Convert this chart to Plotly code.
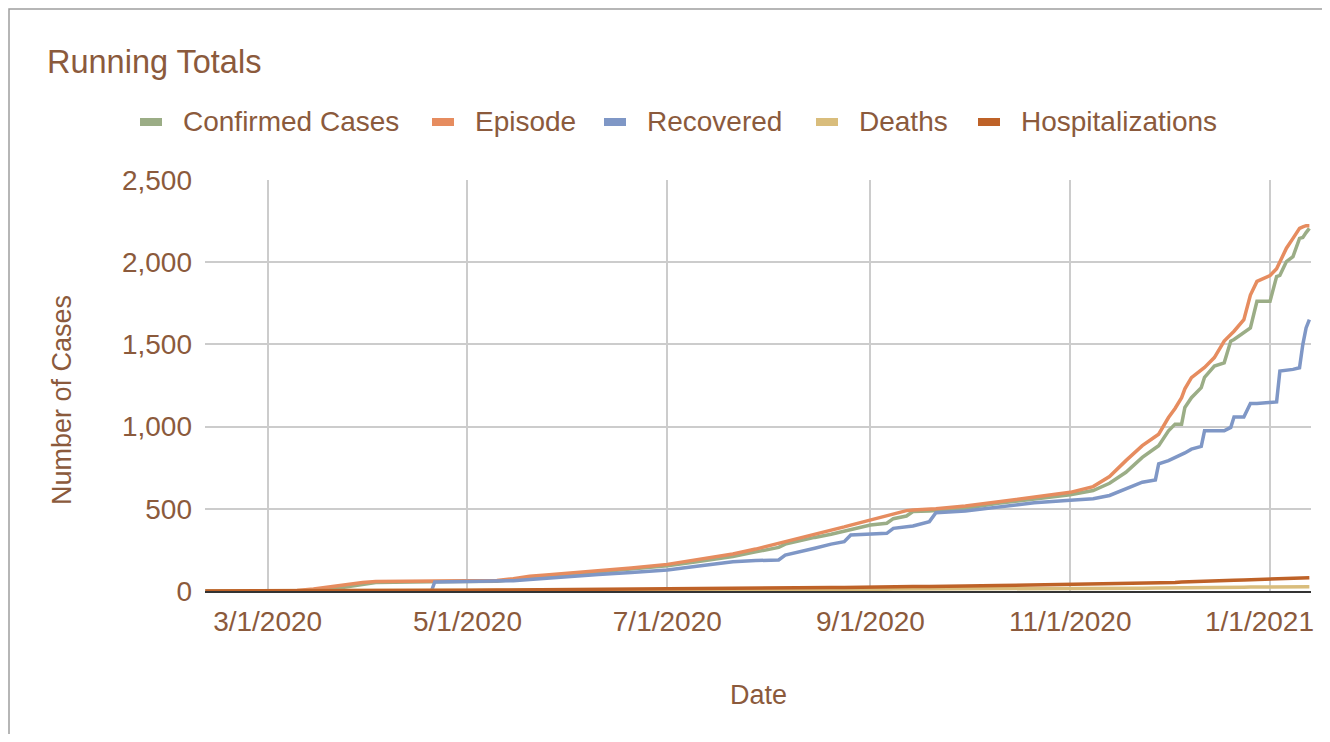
import plotly.graph_objects as go

# ---------------- data ----------------
dates = [
    "2020-02-11", "2020-03-01", "2020-03-10", "2020-03-15", "2020-03-20", "2020-03-25",
    "2020-03-30", "2020-04-03", "2020-04-20", "2020-04-21", "2020-05-01", "2020-05-10",
    "2020-05-15", "2020-05-20", "2020-05-25", "2020-06-01", "2020-06-10", "2020-06-20",
    "2020-07-01", "2020-07-10", "2020-07-21", "2020-07-28", "2020-08-04", "2020-08-06",
    "2020-08-10", "2020-08-15", "2020-08-20", "2020-08-24", "2020-08-26", "2020-09-01",
    "2020-09-06", "2020-09-08", "2020-09-12", "2020-09-14", "2020-09-19", "2020-09-21",
    "2020-09-30", "2020-10-10", "2020-10-21", "2020-11-01", "2020-11-08", "2020-11-13",
    "2020-11-18", "2020-11-23", "2020-11-27", "2020-11-28", "2020-12-01", "2020-12-03",
    "2020-12-05", "2020-12-06", "2020-12-08", "2020-12-11", "2020-12-12", "2020-12-15",
    "2020-12-18", "2020-12-20", "2020-12-21", "2020-12-24", "2020-12-26", "2020-12-28",
    "2021-01-01", "2021-01-03", "2021-01-04", "2021-01-06", "2021-01-08", "2021-01-10",
    "2021-01-11", "2021-01-12", "2021-01-13",
]

confirmed_cases = [
    0, 0, 0, 3, 10, 25, 42, 52, 56, 56, 58, 60, 70, 83, 92, 100, 117, 133,
    154, 178, 209, 238, 265, 285, 305, 326, 345, 362, 371, 401, 412, 440, 456, 483,
    487, 490, 503, 533, 558, 585, 611, 655, 722, 813, 870, 884, 974, 1015, 1015, 1116,
    1176, 1237, 1300, 1368, 1388, 1520, 1530, 1570, 1600, 1762, 1762, 1913, 1920, 2004,
    2034, 2145, 2150, 2180, 2206,
]

episode = [
    0, 0, 3, 12, 25, 40, 52, 58, 60, 60, 62, 64, 75, 90, 98, 108, 123, 140,
    162, 190, 225, 255, 290, 300, 315, 340, 368, 390, 401, 432, 458, 470, 489, 492,
    497, 500, 517, 543, 570, 600, 635, 696, 793, 884, 940, 954, 1055, 1110, 1176, 1230,
    1298, 1340, 1360, 1420, 1520, 1560, 1580, 1651, 1800, 1883, 1919, 1960, 2000, 2085,
    2145, 2206, 2215, 2222, 2222,
]

recovered = [
    0, 0, 0, 0, 0, 0, 0, 0, 0, 55, 57, 60, 63, 70, 78, 88, 101, 112,
    128, 150, 178, 185, 189, 219, 235, 260, 285, 300, 341, 347, 351, 381, 391, 395,
    422, 476, 487, 513, 537, 552, 561, 581, 621, 662, 676, 773, 793, 810, 830, 840,
    863, 880, 974, 974, 974, 995, 1059, 1059, 1140, 1140, 1146, 1150, 1338, 1342,
    1348, 1358, 1499, 1600, 1651,
]

deaths = [
    0, 0, 0, 0, 0, 1, 1, 2, 3, 3, 4, 5, 5, 6, 6, 7, 7, 8,
    8, 8, 9, 9, 9, 9, 10, 10, 10, 11, 11, 11, 11, 12, 12, 12,
    12, 12, 13, 14, 14, 15, 15, 16, 16, 17, 18, 18, 18, 19, 19, 20,
    20, 21, 21, 22, 22, 23, 23, 23, 24, 24, 24, 25, 25, 25,
    26, 26, 26, 26, 26,
]

hospitalizations = [
    0, 0, 0, 1, 1, 2, 3, 3, 4, 4, 5, 6, 7, 8, 9, 10, 11, 12,
    13, 14, 16, 17, 18, 18, 19, 20, 21, 21, 22, 23, 24, 25, 26, 27,
    28, 29, 31, 33, 36, 39, 41, 42, 44, 45, 47, 48, 50, 52, 54, 55,
    57, 59, 60, 62, 64, 65, 66, 67, 68, 69, 70, 72, 73, 75,
    77, 78, 79, 80, 81,
]

series_names = ["Confirmed Cases", "Episode", "Recovered", "Deaths", "Hospitalizations"]
series_values = [confirmed_cases, episode, recovered, deaths, hospitalizations]

x_tick_vals = ["2020-03-01", "2020-05-01", "2020-07-01", "2020-09-01", "2020-11-01", "2021-01-01"]
x_tick_text = ["3/1/2020", "5/1/2020", "7/1/2020", "9/1/2020", "11/1/2020", "1/1/2021"]
y_tick_vals = [0, 500, 1000, 1500, 2000, 2500]

# ---------------- styling / layout ----------------
colors = ["#9bad86", "#e68c5f", "#7f97c6", "#d9bd7c", "#be6228"]
TEXT = "#8b5a3c"
FONT = "Liberation Sans, Arial, sans-serif"

OFF = 8                      # page body margin (the figure starts at screen 8,8)
SCREEN_W, SCREEN_H = 1330, 742
W, H = SCREEN_W - 2 * OFF, SCREEN_H - 2 * OFF   # fit the page without overflow
PLOT_L, PLOT_R, PLOT_T, PLOT_B = 205, 1311, 180, 591   # screen pixels of the plot area
ML, MT = PLOT_L - OFF, PLOT_T - OFF
MR, MB = W - (PLOT_R - OFF), H - (PLOT_B - OFF)
PW, PH = PLOT_R - PLOT_L, PLOT_B - PLOT_T


def px_x(px):
    return (px - PLOT_L) / PW


def px_y(py):
    return (PLOT_B - py) / PH


fig = go.Figure()
for name, vals, col in zip(series_names, series_values, colors):
    fig.add_trace(go.Scatter(
        x=dates, y=vals, name=name, mode="lines",
        line=dict(color=col, width=3.5), showlegend=False,
    ))

# manual legend (short thick bars, like the reference)
legend_text_x = [181, 473, 645, 857, 1019]
legend_y = 122
shapes = []
annotations = []
for name, col, tx in zip(series_names, colors, legend_text_x):
    shapes.append(dict(
        type="rect", xref="paper", yref="paper",
        x0=px_x(tx - 41), x1=px_x(tx - 19),
        y0=px_y(legend_y + 4), y1=px_y(legend_y - 4),
        fillcolor=col, line=dict(width=0), layer="above",
    ))
    annotations.append(dict(
        text=name, xref="paper", yref="paper", x=px_x(tx), y=px_y(legend_y),
        xanchor="left", yanchor="middle", showarrow=False,
        font=dict(size=28, color=TEXT, family=FONT),
    ))

# the last date label sits at the right edge, where plotly hides the tick
# label; draw it as text kept just inside the figure
annotations.append(dict(
    text=x_tick_text[-1], xref="paper", yref="paper", x=px_x(1316), y=px_y(621),
    xanchor="right", yanchor="middle", showarrow=False,
    font=dict(size=28, color=TEXT, family=FONT),
))

# outer frame of the chart card (right/bottom edges lie outside the picture)
shapes.append(dict(
    type="rect", xref="paper", yref="paper",
    x0=px_x(OFF + 1), x1=px_x(1360), y0=px_y(780), y1=px_y(OFF + 1),
    line=dict(color="#9e9e9e", width=1.5), fillcolor="rgba(0,0,0,0)", layer="below",
))

# axis titles
annotations.append(dict(
    text="Date", xref="paper", yref="paper", x=px_x(758), y=px_y(695),
    xanchor="center", yanchor="middle", showarrow=False,
    font=dict(size=27, color=TEXT, family=FONT),
))
annotations.append(dict(
    text="Number of Cases", xref="paper", yref="paper", x=px_x(62), y=px_y(400),
    xanchor="center", yanchor="middle", showarrow=False, textangle=-90,
    font=dict(size=27, color=TEXT, family=FONT),
))

fig.update_layout(
    width=W, height=H, autosize=False,
    margin=dict(l=ML, r=MR, t=MT, b=MB, pad=0),
    paper_bgcolor="white", plot_bgcolor="white",
    font=dict(family=FONT, color=TEXT, size=28),
    title=dict(
        text="Running Totals", x=(47 - OFF) / W, xanchor="left", xref="container",
        y=1 - (62 - OFF) / H, yanchor="middle", yref="container",
        font=dict(size=32.5, color=TEXT, family=FONT),
    ),
    showlegend=False,
    shapes=shapes,
    annotations=annotations,
    xaxis=dict(
        type="date",
        range=["2020-02-10 21:00", "2021-01-13 12:00"],
        tickvals=x_tick_vals, ticktext=x_tick_text,
        showgrid=True, gridcolor="#cccccc", gridwidth=1.5,
        zeroline=False, showline=True, linecolor="#333333", linewidth=1.5,
        ticks="", ticklabelstandoff=5,
        tickfont=dict(size=28, color=TEXT, family=FONT),
    ),
    yaxis=dict(
        range=[0, 2500],
        tickvals=y_tick_vals, tickformat=",d",
        showgrid=True, gridcolor="#cccccc", gridwidth=1.5,
        zeroline=False, showline=False,
        ticks="", ticklabelstandoff=12,
        tickfont=dict(size=28, color=TEXT, family=FONT),
    ),
)

fig.write_html("out.html", config={"displayModeBar": False})
